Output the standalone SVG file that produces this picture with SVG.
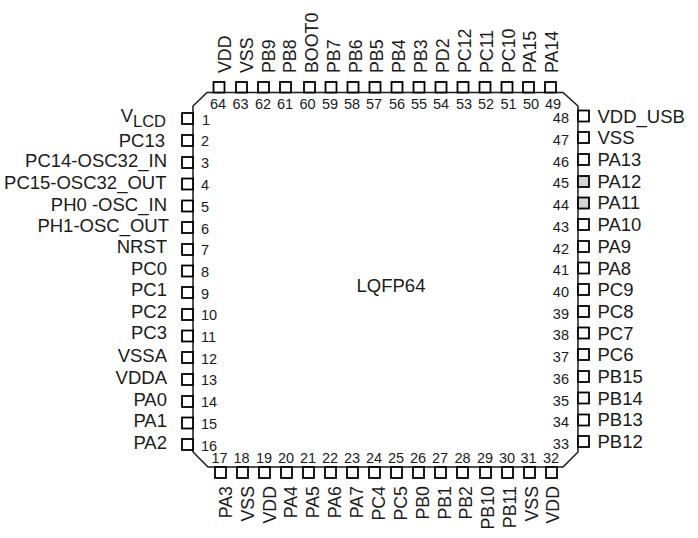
<svg xmlns="http://www.w3.org/2000/svg" width="698" height="538" viewBox="0 0 698 538">
<style>
text{font-family:"Liberation Sans",Arial,sans-serif;fill:#1a1a1a}
.l{font-size:18.5px}
text[transform].l{font-size:17.8px}
.n{font-size:14.5px}
.e{text-anchor:end}
.m{text-anchor:middle}
rect{fill:#fff;stroke:#000;stroke-width:1.8}
rect.g{fill:#d4d4d4}
</style>
<rect width="698" height="538" style="fill:#fff;stroke:none"/>
<g id="chip">
<path d="M207 92.500H563L578 106V452L563 467H208L193 452V106Z" fill="none" stroke="#1a1a1a" stroke-width="1.500"/>
<text class="l m" x="391" y="292">LQFP64</text>
</g>
<g id="pins-left">
<g id="pin-1"><rect x="182" y="113" width="11" height="11"/><text class="n" x="202" y="124.500">1</text><text class="l e" x="166" y="122">V<tspan font-size="16.500" dy="4.500">LCD</tspan></text></g>
<g id="pin-2"><rect x="182" y="135" width="11" height="11"/><text class="n" x="201" y="146">2</text><text class="l e" x="165" y="147">PC13</text></g>
<g id="pin-3"><rect x="182" y="157" width="11" height="11"/><text class="n" x="201" y="168">3</text><text class="l e" x="167" y="167">PC14-OSC32_IN</text></g>
<g id="pin-4"><rect x="182" y="178.500" width="11" height="11"/><text class="n" x="201" y="190">4</text><text class="l e" x="166.500" y="188.500">PC15-OSC32_OUT</text></g>
<g id="pin-5"><rect x="182" y="200.500" width="11" height="11"/><text class="n" x="201" y="212">5</text><text class="l e" x="167" y="211">PH0 -OSC_IN</text></g>
<g id="pin-6"><rect x="182" y="222" width="11" height="11"/><text class="n" x="201" y="233.500">6</text><text class="l e" x="169" y="232">PH1-OSC_OUT</text></g>
<g id="pin-7"><rect x="182" y="244" width="11" height="11"/><text class="n" x="201" y="255">7</text><text class="l e" x="167" y="253">NRST</text></g>
<g id="pin-8"><rect x="182" y="265.500" width="11" height="11"/><text class="n" x="201" y="277">8</text><text class="l e" x="167" y="275">PC0</text></g>
<g id="pin-9"><rect x="182" y="287" width="11" height="11"/><text class="n" x="201" y="298.500">9</text><text class="l e" x="167" y="296">PC1</text></g>
<g id="pin-10"><rect x="182" y="309" width="11" height="11"/><text class="n" x="201" y="320">10</text><text class="l e" x="167" y="318">PC2</text></g>
<g id="pin-11"><rect x="182" y="330.500" width="11" height="11"/><text class="n" x="201" y="342">11</text><text class="l e" x="167" y="339">PC3</text></g>
<g id="pin-12"><rect x="182" y="352" width="11" height="11"/><text class="n" x="201" y="363.500">12</text><text class="l e" x="167" y="362">VSSA</text></g>
<g id="pin-13"><rect x="182" y="374" width="11" height="11"/><text class="n" x="201" y="385">13</text><text class="l e" x="167" y="384">VDDA</text></g>
<g id="pin-14"><rect x="182" y="396" width="11" height="11"/><text class="n" x="201" y="407">14</text><text class="l e" x="167" y="406">PA0</text></g>
<g id="pin-15"><rect x="182" y="417.500" width="11" height="11"/><text class="n" x="201" y="429">15</text><text class="l e" x="167" y="427">PA1</text></g>
<g id="pin-16"><rect x="182" y="439" width="11" height="11"/><text class="n" x="201" y="450.500">16</text><text class="l e" x="167" y="449">PA2</text></g>
</g>
<g id="pins-right">
<g id="pin-48"><rect x="578" y="110.500" width="11" height="11"/><text class="n e" x="569" y="123">48</text><text class="l" x="597.500" y="122.500">VDD_USB</text></g>
<g id="pin-47"><rect x="578" y="132" width="11" height="11"/><text class="n e" x="569" y="145">47</text><text class="l" x="597.500" y="144">VSS</text></g>
<g id="pin-46"><rect x="578" y="154" width="11" height="11"/><text class="n e" x="569" y="167">46</text><text class="l" x="597.500" y="166">PA13</text></g>
<g id="pin-45"><rect class="g" x="578" y="176" width="11" height="11"/><text class="n e" x="569" y="188">45</text><text class="l" x="597.500" y="188">PA12</text></g>
<g id="pin-44"><rect class="g" x="578" y="197.500" width="11" height="11"/><text class="n e" x="569" y="210">44</text><text class="l" x="597.500" y="209">PA11</text></g>
<g id="pin-43"><rect x="578" y="219" width="11" height="11"/><text class="n e" x="569" y="232">43</text><text class="l" x="597.500" y="231">PA10</text></g>
<g id="pin-42"><rect x="578" y="241" width="11" height="11"/><text class="n e" x="569" y="253.500">42</text><text class="l" x="597.500" y="253">PA9</text></g>
<g id="pin-41"><rect x="578" y="262.500" width="11" height="11"/><text class="n e" x="569" y="275">41</text><text class="l" x="597.500" y="274.500">PA8</text></g>
<g id="pin-40"><rect x="578" y="284" width="11" height="11"/><text class="n e" x="569" y="297">40</text><text class="l" x="597.500" y="296">PC9</text></g>
<g id="pin-39"><rect x="578" y="306" width="11" height="11"/><text class="n e" x="569" y="318.500">39</text><text class="l" x="597.500" y="318">PC8</text></g>
<g id="pin-38"><rect x="578" y="327.500" width="11" height="11"/><text class="n e" x="569" y="340">38</text><text class="l" x="597.500" y="339.500">PC7</text></g>
<g id="pin-37"><rect x="578" y="349" width="11" height="11"/><text class="n e" x="569" y="362">37</text><text class="l" x="597.500" y="361">PC6</text></g>
<g id="pin-36"><rect x="578" y="371" width="11" height="11"/><text class="n e" x="569" y="384">36</text><text class="l" x="597.500" y="383">PB15</text></g>
<g id="pin-35"><rect x="578" y="392.500" width="11" height="11"/><text class="n e" x="569" y="405.500">35</text><text class="l" x="597.500" y="404.500">PB14</text></g>
<g id="pin-34"><rect x="578" y="414.500" width="11" height="11"/><text class="n e" x="569" y="427">34</text><text class="l" x="597.500" y="426">PB13</text></g>
<g id="pin-33"><rect x="578" y="436" width="11" height="11"/><text class="n e" x="569" y="448.500">33</text><text class="l" x="597.500" y="448">PB12</text></g>
</g>
<g id="pins-top">
<g id="pin-64"><rect x="213.500" y="82" width="11" height="10.500"/><text class="n m" x="218" y="109">64</text><text class="l" transform="translate(230.500 73) rotate(-90)">VDD</text></g>
<g id="pin-63"><rect x="236" y="82" width="11" height="10.500"/><text class="n m" x="240.500" y="109">63</text><text class="l" transform="translate(252.500 73) rotate(-90)">VSS</text></g>
<g id="pin-62"><rect x="258" y="82" width="11" height="10.500"/><text class="n m" x="263" y="109">62</text><text class="l" transform="translate(274.500 73) rotate(-90)">PB9</text></g>
<g id="pin-61"><rect x="280" y="82" width="11" height="10.500"/><text class="n m" x="285" y="109">61</text><text class="l" transform="translate(296 73) rotate(-90)">PB8</text></g>
<g id="pin-60"><rect x="304" y="82" width="11" height="10.500"/><text class="n m" x="307.500" y="109">60</text><text class="l" transform="translate(318 73) rotate(-90)">BOOT0</text></g>
<g id="pin-59"><rect x="325.500" y="82" width="11" height="10.500"/><text class="n m" x="330" y="109">59</text><text class="l" transform="translate(339.500 73) rotate(-90)">PB7</text></g>
<g id="pin-58"><rect x="347.500" y="82" width="11" height="10.500"/><text class="n m" x="352" y="109">58</text><text class="l" transform="translate(361.500 73) rotate(-90)">PB6</text></g>
<g id="pin-57"><rect x="369.500" y="82" width="11" height="10.500"/><text class="n m" x="374" y="109">57</text><text class="l" transform="translate(383 73) rotate(-90)">PB5</text></g>
<g id="pin-56"><rect x="391.500" y="82" width="11" height="10.500"/><text class="n m" x="397" y="109">56</text><text class="l" transform="translate(405 73) rotate(-90)">PB4</text></g>
<g id="pin-55"><rect x="413.500" y="82" width="11" height="10.500"/><text class="n m" x="419" y="109">55</text><text class="l" transform="translate(427 73) rotate(-90)">PB3</text></g>
<g id="pin-54"><rect x="435.500" y="82" width="11" height="10.500"/><text class="n m" x="441" y="109">54</text><text class="l" transform="translate(449 73) rotate(-90)">PD2</text></g>
<g id="pin-53"><rect x="457.500" y="82" width="11" height="10.500"/><text class="n m" x="464" y="109">53</text><text class="l" transform="translate(471 73) rotate(-90)">PC12</text></g>
<g id="pin-52"><rect x="479.500" y="82" width="11" height="10.500"/><text class="n m" x="486" y="109">52</text><text class="l" transform="translate(493 73) rotate(-90)">PC11</text></g>
<g id="pin-51"><rect x="501.500" y="82" width="11" height="10.500"/><text class="n m" x="508.500" y="109">51</text><text class="l" transform="translate(514.500 73) rotate(-90)">PC10</text></g>
<g id="pin-50"><rect x="523" y="82" width="11" height="10.500"/><text class="n m" x="531" y="109">50</text><text class="l" transform="translate(536 73) rotate(-90)">PA15</text></g>
<g id="pin-49"><rect x="545" y="82" width="11" height="10.500"/><text class="n m" x="553" y="109">49</text><text class="l" transform="translate(558 73) rotate(-90)">PA14</text></g>
</g>
<g id="pins-bottom">
<g id="pin-17"><rect x="215" y="467" width="11" height="11"/><text class="n m" x="219.500" y="463">17</text><text class="l e" transform="translate(232 486) rotate(-90)">PA3</text></g>
<g id="pin-18"><rect x="237" y="467" width="11" height="11"/><text class="n m" x="241.500" y="463">18</text><text class="l e" transform="translate(254 486) rotate(-90)">VSS</text></g>
<g id="pin-19"><rect x="259" y="467" width="11" height="11"/><text class="n m" x="264" y="463">19</text><text class="l e" transform="translate(276 486) rotate(-90)">VDD</text></g>
<g id="pin-20"><rect x="281" y="467" width="11" height="11"/><text class="n m" x="286" y="463">20</text><text class="l e" transform="translate(297 486) rotate(-90)">PA4</text></g>
<g id="pin-21"><rect x="303" y="467" width="11" height="11"/><text class="n m" x="308" y="463">21</text><text class="l e" transform="translate(319 486) rotate(-90)">PA5</text></g>
<g id="pin-22"><rect x="325" y="467" width="11" height="11"/><text class="n m" x="330" y="463">22</text><text class="l e" transform="translate(341 486) rotate(-90)">PA6</text></g>
<g id="pin-23"><rect x="347" y="467" width="11" height="11"/><text class="n m" x="352" y="463">23</text><text class="l e" transform="translate(363 486) rotate(-90)">PA7</text></g>
<g id="pin-24"><rect x="369" y="467" width="11" height="11"/><text class="n m" x="374" y="463">24</text><text class="l e" transform="translate(385 486) rotate(-90)">PC4</text></g>
<g id="pin-25"><rect x="391" y="467" width="11" height="11"/><text class="n m" x="396" y="463">25</text><text class="l e" transform="translate(407 486) rotate(-90)">PC5</text></g>
<g id="pin-26"><rect x="413" y="467" width="11" height="11"/><text class="n m" x="418" y="463">26</text><text class="l e" transform="translate(429 486) rotate(-90)">PB0</text></g>
<g id="pin-27"><rect x="435" y="467" width="11" height="11"/><text class="n m" x="440" y="463">27</text><text class="l e" transform="translate(450.500 486) rotate(-90)">PB1</text></g>
<g id="pin-28"><rect x="457" y="467" width="11" height="11"/><text class="n m" x="462.500" y="463">28</text><text class="l e" transform="translate(472 486) rotate(-90)">PB2</text></g>
<g id="pin-29"><rect x="480" y="467" width="11" height="11"/><text class="n m" x="485" y="463">29</text><text class="l e" transform="translate(494 486) rotate(-90)">PB10</text></g>
<g id="pin-30"><rect x="502" y="467" width="11" height="11"/><text class="n m" x="507" y="463">30</text><text class="l e" transform="translate(516 486) rotate(-90)">PB11</text></g>
<g id="pin-31"><rect x="524" y="467" width="11" height="11"/><text class="n m" x="528.500" y="463">31</text><text class="l e" transform="translate(538 486) rotate(-90)">VSS</text></g>
<g id="pin-32"><rect x="546" y="467" width="11" height="11"/><text class="n m" x="551" y="463">32</text><text class="l e" transform="translate(559 486) rotate(-90)">VDD</text></g>
</g>
</svg>
